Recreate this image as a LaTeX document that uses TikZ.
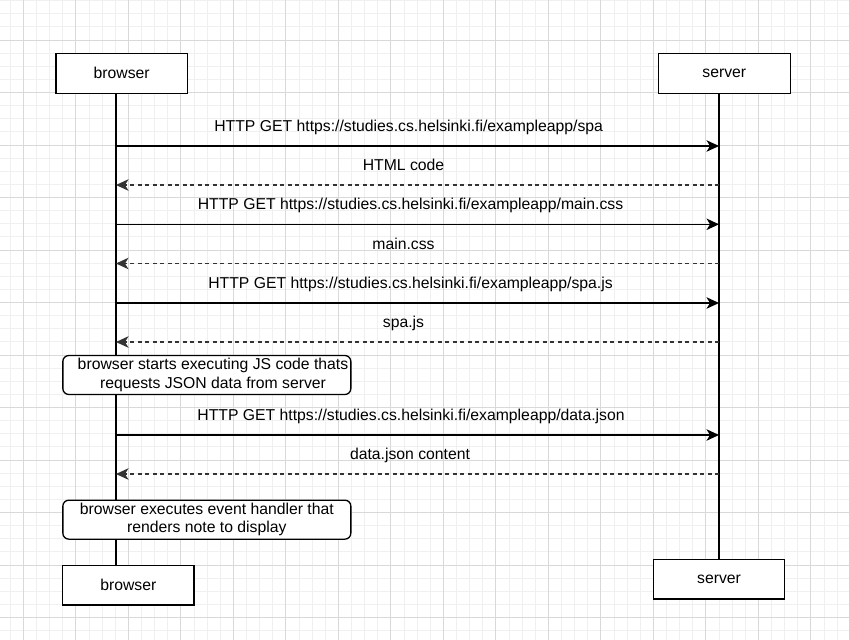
\documentclass[tikz,border=0pt]{standalone}
\usepackage{fontspec}
\setmainfont{Liberation Sans}
\usetikzlibrary{arrows.meta}
\tikzset{>=stealth}
\tikzset{
  actor/.style={draw, line width=1.3pt, fill=white, minimum height=40pt, inner sep=0pt},
  note/.style={draw, line width=1.3pt, fill=white, rounded corners=6pt, minimum width=288pt, minimum height=39pt, inner sep=0pt},
  life/.style={line width=1.3pt},
  msg/.style={-{Stealth[length=12.5pt,width=11.5pt,inset=3.5pt]}, line width=1.3pt},
  reply/.style={msg, dash pattern=on 4pt off 3.5pt, black!80},
  lbl/.style={anchor=base, yshift=14.5pt, text=black},
  gridminor/.style={black!6, line width=0.8pt},
  gridmajor/.style={black!15, line width=0.8pt}
}

\begin{document}
\begin{tikzpicture}[x=1pt, y=-1pt, font=\fontsize{15.75}{18.3}\selectfont]
        \useasboundingbox[fill=white] (0,0) rectangle (849,640);
        % grid
        \foreach \i in {0,...,64} \draw[gridminor] ({10.175+13.125*\i},0) -- ({10.175+13.125*\i},640);
        \foreach \i in {0,...,48} \draw[gridminor] (0,{0.625+13.125*\i}) -- (849,{0.625+13.125*\i});
        \foreach \i in {0,...,15} \draw[gridmajor] ({23.3+52.5*\i},0) -- ({23.3+52.5*\i},640);
        \foreach \i in {0,...,11} \draw[gridmajor] (0,{40+52.5*\i}) -- (849,{40+52.5*\i});

        % participants
        \node[actor, minimum width=131.3pt] (btop) at (121.65,73.3) {browser};
        \node[actor, minimum width=132pt] (stop) at (724.3,73.3) {server};
        \node[actor, minimum width=131.3pt, minimum height=39.7pt] (bbot) at (128.35,585.15) {browser};
        \node[actor, minimum width=131.4pt, minimum height=39.7pt] (sbot) at (719,579.15) {server};

        % lifelines
        \coordinate (bx) at (116,0);
        \coordinate (sx) at (719,0);
        \draw[life] (btop.south -| bx) -- (bbot.north -| bx);
        \draw[life] (stop.south -| sx) -- (sbot.north);

        % notes
        \node[note] (start) at (206.85,375) {};
        \node[align=center] (starttxt) at (213,375) {browser starts executing JS code thats\\requests JSON data from server};
        \node[note, align=center] (render) at (206.85,519.65) {browser executes event handler that\\renders note to display};

        % messages
        \foreach \y/\a/\b/\st/\dx/\txt [count=\n] in {
            146/b/s/msg/-8.8/{HTTP GET https://studies.cs.helsinki.fi/exampleapp/spa},
            185/s/b/reply/-14/{HTML code},
            224.3/b/s/msg/-7/{HTTP GET https://studies.cs.helsinki.fi/exampleapp/main.css},
            263.5/s/b/reply/-14/{main.css},
            303/b/s/msg/-7/{HTTP GET https://studies.cs.helsinki.fi/exampleapp/spa.js},
            342/s/b/reply/-14/{spa.js},
            435/b/s/msg/-6.5/{HTTP GET https://studies.cs.helsinki.fi/exampleapp/data.json},
            474/s/b/reply/-7.5/{data.json content}} {
          \coordinate (b\n) at (116,\y);
          \coordinate (s\n) at (719,\y);
          \draw[\st] (\a\n) -- node[lbl, xshift=\dx]{\txt} (\b\n);
        }
      \end{tikzpicture}
\end{document}
